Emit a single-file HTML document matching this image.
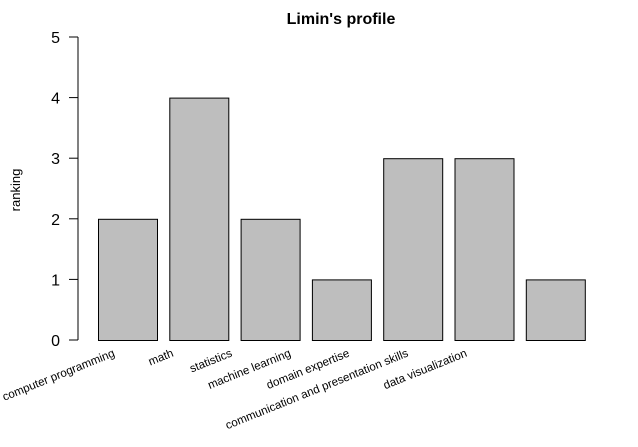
<!DOCTYPE html>
<html><head><meta charset="utf-8"><style>body{margin:0;background:#fff}svg{display:block}text{font-family:"Liberation Sans",Arial,sans-serif}</style></head>
<body>
<svg id="chart" width="638" height="447">
<text x="341" y="24" text-anchor="middle" font-size="16" font-weight="bold">Limin's profile</text>
<text transform="translate(20,190) rotate(-90)" text-anchor="middle" font-size="13">ranking</text>
<g id="axis"></g>
<g id="bars"></g>
<g id="labels"></g>
</svg>
<script>
const categories=["computer programming","math","statistics","machine learning","domain expertise","communication and presentation skills","data visualization"];
const values=[2,4,2,1,3,3,1];
const ticks=[0,1,2,3,4,5];
const ns="http://www.w3.org/2000/svg";
const y0=340,pu=60.6;
function y(v){return y0-v*pu;}
function x(i){return 98+i*71.3;}
const bw=59;
function mk(t,a,p){const e=document.createElementNS(ns,t);for(const k in a)e.setAttribute(k,a[k]);p.appendChild(e);return e;}
const ax=document.getElementById('axis');
const l=mk('line',{x1:78,x2:78,y1:y(0),y2:y(5),stroke:'#000'},ax);


ticks.forEach(t=>{
 const tk=mk('line',{x1:69,x2:78,y1:y(t),y2:y(t),stroke:'#000'},ax);
 
 
 const tx=mk('text',{x:60,y:y(t)+6,'text-anchor':'end','font-size':16},ax);
 tx.textContent=t;
 
 
});
const bg=document.getElementById('bars'),lg=document.getElementById('labels');
values.forEach((v,i)=>{
 const r=mk('rect',{x:x(i)+0.5,y:y(v)+0.5,width:bw,height:y(0)-y(v),fill:'#bebebe',stroke:'#000'},bg);
 
 
 const lx=x(i)+bw/2-12-i*12.6, ly=356;
 const t=mk('text',{x:lx,y:ly,'text-anchor':'end','font-size':11.6,transform:`rotate(-22 ${lx} ${ly})`},lg);
 t.textContent=categories[i];
 
 
});
</script>
</body></html>
